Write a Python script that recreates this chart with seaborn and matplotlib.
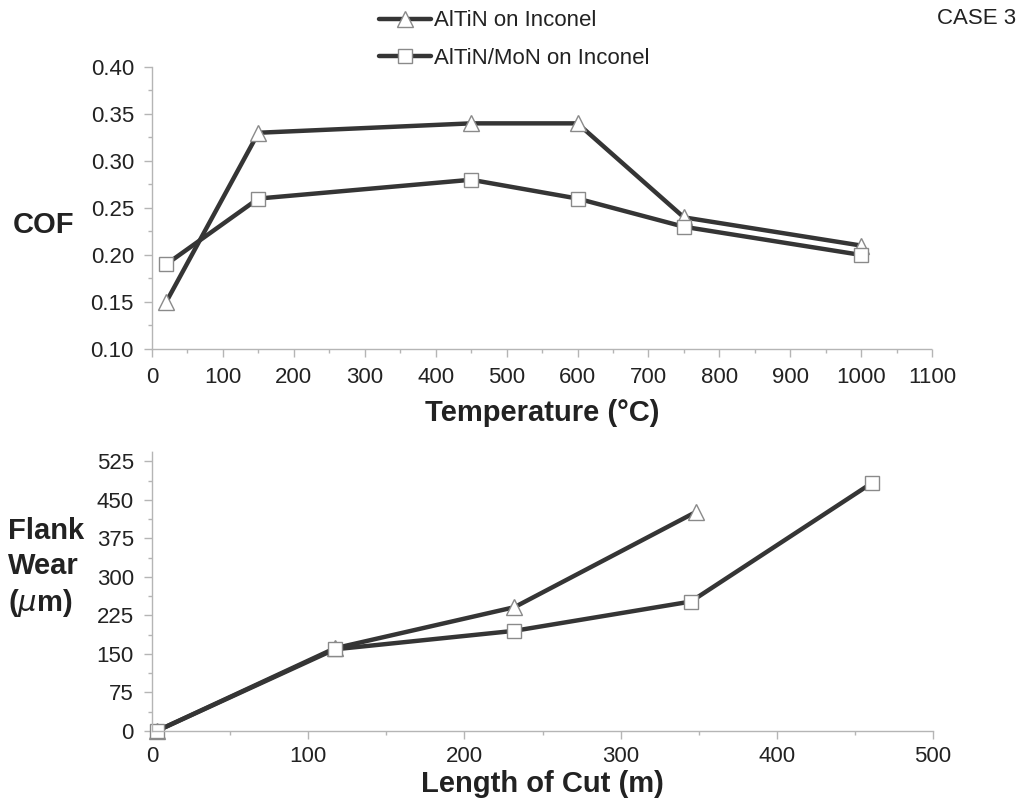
import matplotlib
matplotlib.use("Agg")
import matplotlib.pyplot as plt
from matplotlib.ticker import MultipleLocator, FormatStrFormatter
import seaborn as sns
import pandas as pd

# Coefficient of friction vs temperature
temp_altin = [20, 150, 450, 600, 750, 1000]
cof_altin = [0.15, 0.33, 0.34, 0.34, 0.24, 0.21]
temp_mon = [20, 150, 450, 600, 750, 1000]
cof_mon = [0.19, 0.26, 0.28, 0.26, 0.23, 0.20]

# Flank wear vs length of cut
cut_altin = [3, 117, 232, 348]
wear_altin = [0, 161, 241, 426]
cut_mon = [3, 117, 232, 345, 461]
wear_mon = [0, 159, 195, 252, 483]

series_names = ["AlTiN on Inconel", "AlTiN/MoN on Inconel"]

sns.set_theme(style="white")
plt.rcParams["font.family"] = ["Liberation Sans", "DejaVu Sans"]

line_color = "#353535"
edge_color = "#8a8a8a"
spine_color = "#b5b5b5"
text_color = "#222222"

fig = plt.figure(figsize=(10.21, 8.0), dpi=100)
ax1 = fig.add_axes([0.1489, 0.5638, 0.764, 0.3525])
ax2 = fig.add_axes([0.1489, 0.08625, 0.765, 0.35])


def draw(ax, x, y, marker, ms, label):
    df = pd.DataFrame({"x": x, "y": y})
    sns.lineplot(data=df, x="x", y="y", ax=ax, color=line_color, lw=3.2,
                 marker=marker, markersize=ms, markerfacecolor="white",
                 markeredgecolor=edge_color, markeredgewidth=1.0,
                 label=label, clip_on=False, sort=False)


draw(ax1, temp_altin, cof_altin, "^", 12, series_names[0])
draw(ax1, temp_mon, cof_mon, "s", 10, series_names[1])
draw(ax2, cut_altin, wear_altin, "^", 12, series_names[0])
draw(ax2, cut_mon, wear_mon, "s", 10, series_names[1])

ax1.set_xlim(0, 1100)
ax1.set_ylim(0.10, 0.40)
ax1.xaxis.set_major_locator(MultipleLocator(100))
ax1.xaxis.set_minor_locator(MultipleLocator(50))
ax1.yaxis.set_major_locator(MultipleLocator(0.05))
ax1.yaxis.set_minor_locator(MultipleLocator(0.025))
ax1.yaxis.set_major_formatter(FormatStrFormatter("%.2f"))

ax2.set_xlim(0, 500)
ax2.set_ylim(0, 545)
ax2.xaxis.set_major_locator(MultipleLocator(100))
ax2.xaxis.set_minor_locator(MultipleLocator(50))
ax2.yaxis.set_major_locator(MultipleLocator(75))
ax2.yaxis.set_minor_locator(MultipleLocator(37.5))

for ax in (ax1, ax2):
    for side in ("top", "right"):
        ax.spines[side].set_visible(False)
    for side in ("left", "bottom"):
        ax.spines[side].set_color(spine_color)
        ax.spines[side].set_linestyle((0, (1, 1)))
        ax.spines[side].set_linewidth(1.0)
    ax.tick_params(which="both", direction="out", color=spine_color,
                   left=True, bottom=True)
    ax.tick_params(which="major", length=6, width=1, labelsize=16,
                   labelcolor=text_color, pad=7)
    ax.tick_params(which="minor", length=3, width=1)
    ax.set_xlabel("")
    ax.set_ylabel("")
    ax.grid(False)
    leg = ax.get_legend()
    if leg is not None:
        leg.remove()

ax2.tick_params(axis="x", which="major", pad=5)

ax1.set_xlabel("Temperature (°C)", fontsize=21, fontweight="bold",
               color=text_color, labelpad=8)
ax2.set_xlabel("Length of Cut (m)", fontsize=21, fontweight="bold",
               color=text_color, labelpad=2)

fig.text(0.012, 1 - 225 / 800, "COF", fontsize=21, fontweight="bold",
         color=text_color, ha="left", va="center")
fig.text(0.008, 1 - 568 / 800, "Flank\nWear\n($\\mu$m)", fontsize=21,
         fontweight="bold", color=text_color, ha="left", va="center",
         linespacing=1.3)

handles, labels = ax1.get_legend_handles_labels()
fig.legend(handles, labels, loc="upper left", bbox_to_anchor=(0.352, 1.012),
           frameon=False, fontsize=16, handlelength=2.3, handletextpad=0.15,
           labelspacing=0.75, labelcolor=text_color)

fig.text(0.995, 0.977, "CASE 3", fontsize=16, color=text_color,
         ha="right", va="center")

fig.savefig("out.png", dpi=100, facecolor="white")
